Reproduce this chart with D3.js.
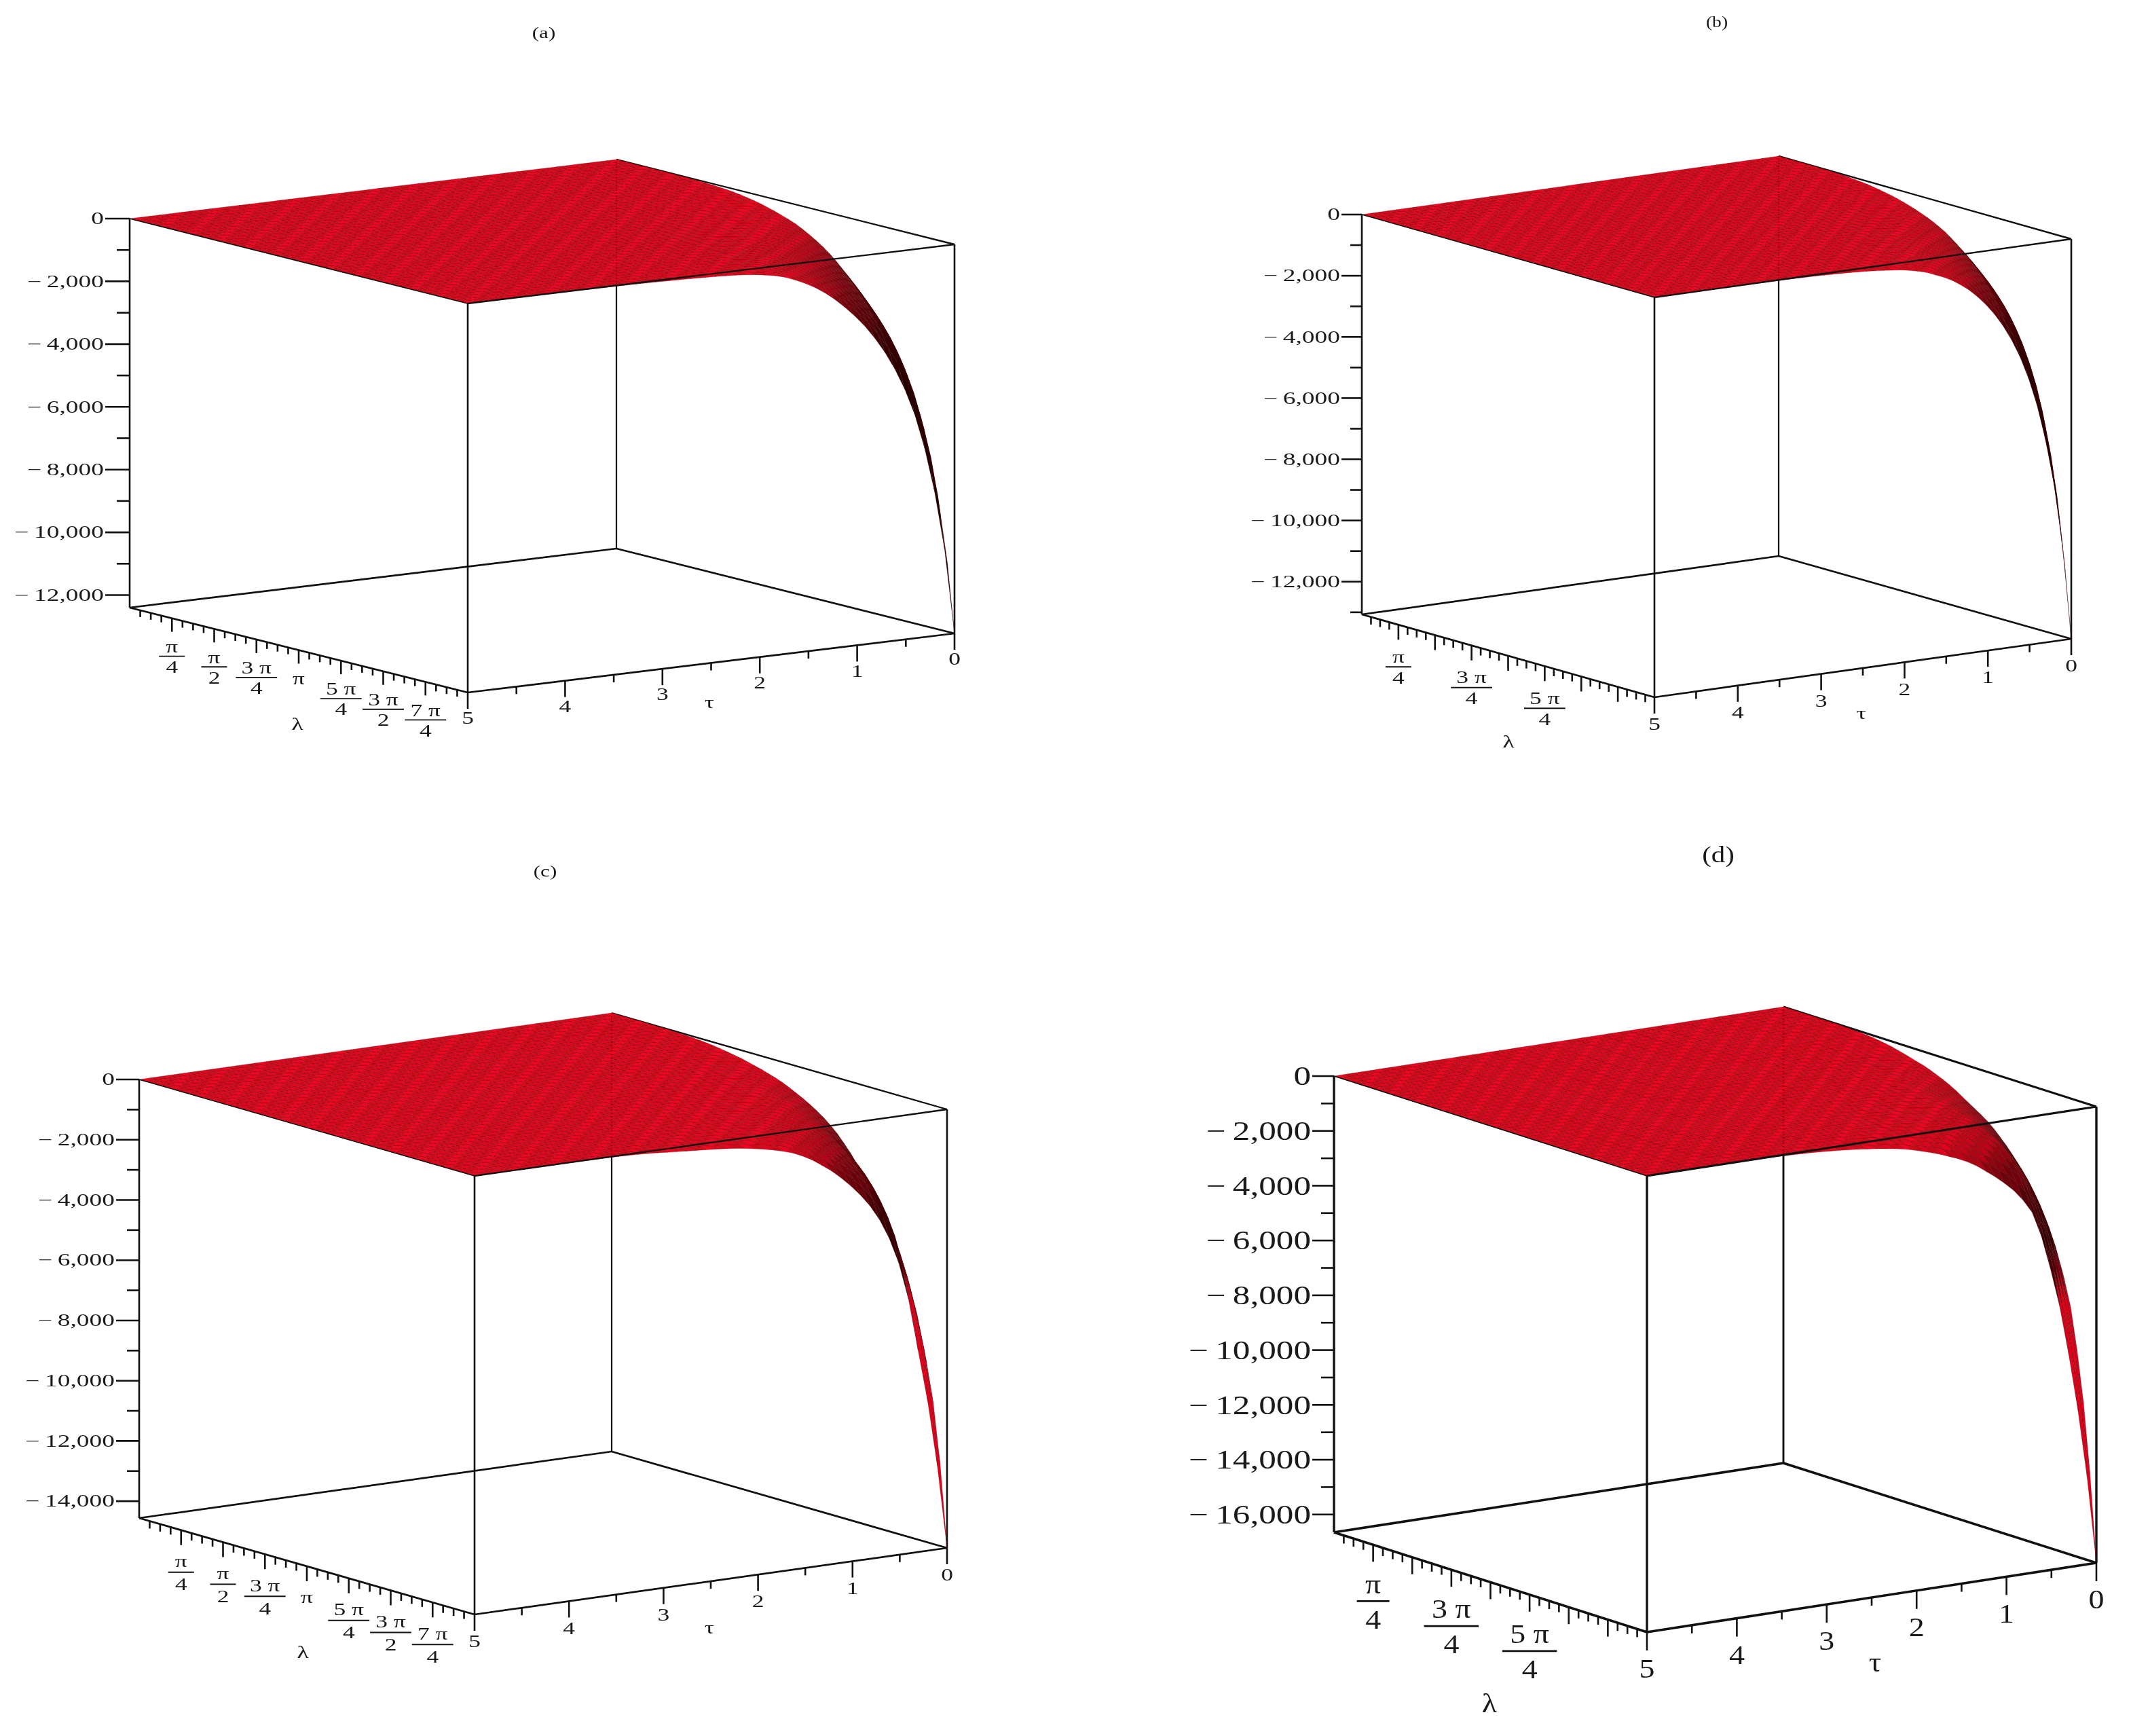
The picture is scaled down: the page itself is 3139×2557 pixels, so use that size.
<!DOCTYPE html>
<html><head><meta charset="utf-8">
<style>html,body{margin:0;background:#fff}svg{display:block;filter:blur(0.7px)}text{font-family:"Liberation Serif",serif;fill:#1a1a1a}</style>
<script src="https://cdnjs.cloudflare.com/ajax/libs/d3/7.8.5/d3.min.js"></script>
</head><body><svg id="c" width="3139" height="2557"></svg>
<script>
// surface depth profiles, fraction of the box floor
// index 0..49 runs lambda 0..2pi along tau=0, and tau 5..0 along lambda=2pi
const edgeLambdaA=[0,0,0,0,.0001,.0002,.0003,.0004,.0006,.0008,.001,.0014,.0019,.0026,.0035,.0047,.0062,.008,.0105,.0135,.017,.021,.026,.031,.037,.043,.05,.059,.069,.08,.092,.106,.122,.14,.159,.18,.203,.228,.255,.285,.318,.354,.394,.44,.49,.55,.62,.71,.83,1];
const edgeTauA=[0,0,0,0,0,.0001,.0001,.0002,.0003,.0004,.0005,.0007,.0009,.0012,.0015,.0018,.0022,.0026,.003,.0036,.0042,.0048,.0055,.0063,.0072,.0082,.0095,.011,.013,.016,.02,.025,.032,.042,.054,.068,.085,.105,.128,.154,.183,.217,.256,.302,.357,.425,.515,.63,.78,1];
const edgeLambdaB=[0,0,0,0,.0001,.0002,.0003,.0005,.0008,.0012,.0018,.0025,.0035,.0047,.0062,.008,.0105,.013,.016,.019,.023,.027,.032,.037,.043,.049,.056,.064,.073,.084,.096,.109,.123,.139,.156,.175,.196,.219,.244,.272,.303,.338,.378,.424,.478,.54,.615,.71,.835,1];
const edgeTauB=[0,0,0,0,0,.0001,.0001,.0002,.0002,.0003,.0004,.0005,.0007,.0009,.0012,.0015,.0018,.0022,.0027,.0033,.004,.0047,.0055,.0065,.0078,.0092,.011,.013,.0155,.018,.022,.027,.033,.042,.051,.062,.076,.092,.112,.135,.162,.194,.232,.278,.335,.405,.495,.61,.77,1];
const edgeLambdaC=[0,0,0,0,.0001,.0002,.0004,.0006,.0009,.0013,.0018,.0025,.0034,.0046,.0062,.0082,.0105,.013,.016,.019,.023,.027,.031,.036,.041,.047,.054,.062,.07,.079,.089,.1,.113,.128,.146,.165,.187,.211,.237,.265,.296,.33,.367,.41,.46,.52,.59,.68,.815,1];
const edgeTauC=[0,0,0,0,0,.0001,.0001,.0002,.0003,.0004,.0005,.0007,.0009,.0012,.0016,.002,.0027,.0036,.0048,.0063,.008,.0098,.0115,.013,.0148,.0165,.0185,.0208,.024,.028,.032,.037,.043,.05,.06,.072,.087,.103,.122,.143,.167,.195,.23,.275,.335,.42,.54,.66,.81,1];
const edgeLambdaD=[0,0,0,0,0,.0001,.0002,.0003,.0005,.0009,.0013,.0019,.0027,.0037,.005,.007,.0092,.012,.0155,.019,.023,.027,.031,.036,.042,.048,.055,.063,.072,.081,.09,.099,.109,.121,.135,.15,.167,.186,.207,.23,.256,.285,.318,.356,.402,.46,.55,.66,.81,1];
const edgeTauD=[0,0,0,0,0,.0001,.0001,.0002,.0003,.0004,.0005,.0007,.001,.0013,.0017,.0023,.003,.0038,.0048,.006,.0075,.009,.011,.013,.0155,.018,.021,.024,.028,.033,.039,.045,.052,.06,.068,.078,.09,.105,.12,.137,.156,.18,.21,.265,.34,.425,.535,.66,.81,1];
// vertical axis extent and tick labels
const zFloors=[-12400,-13070,-14560,-16650];
const tauTicks=[0,.5,1,1.5,2,2.5,3,3.5,4,4.5,5];
const lambdaLabelsFull=["π/4","π/2","3 π/4","π","5 π/4","3 π/2","7 π/4"];
const lambdaLabelsOdd=["π/4","","3 π/4","","5 π/4","",""];
const panelTitles=["(a)","(b)","(c)","(d)"];

// layout: where each box sits on the page
const layout=[
 {A:[191,322],AB:[498,125],AD:[717,-87],H:573,font:25,sx:1.5,fontL:25,sxL:1.42,lw:2.6,zTick:[36,19],lTick:[20,10],tTick:[24,11],frac:[42,56,72],tauOff:38,
  title:[801,48,23,1.35],tauL:[1045,1035],lamL:[438,1067],unit:38,tail:0},
 {A:[2006,316],AB:[431,122],AD:[614,-86],H:589,font:25,sx:1.5,fontL:25,sxL:1.42,lw:2.6,zTick:[30,17],lTick:[22,11],tTick:[24,11],frac:[47,62,78],tauOff:40,
  title:[2529,32,23,1.2],tauL:[2742,1051],lamL:[2222,1093],unit:38,tail:0},
 {A:[205,1590],AB:[494,142],AD:[696,-98],H:646,font:25,sx:1.5,fontL:25,sxL:1.42,lw:2.6,zTick:[34,18],lTick:[22,11],tTick:[24,11],frac:[46,62,80],tauOff:40,
  title:[803,1283,23,1.35],tauL:[1045,2398],lamL:[446,2434],unit:38,tail:1},
 {A:[1965,1585],AB:[461,147],AD:[662,-102],H:672,font:40,sx:1.28,fontL:40,sxL:1.15,lw:3.4,zTick:[32,19],lTick:[25,12],tTick:[27,12],frac:[58,83,110],tauOff:54,
  title:[2531,1259,34,1.2],tauL:[2762,2449],lamL:[2194,2509],unit:48,tail:1}
];
const profiles=[[edgeLambdaA,edgeTauA],[edgeLambdaB,edgeTauB],[edgeLambdaC,edgeTauC],[edgeLambdaD,edgeTauD]];
const labelSets=[lambdaLabelsFull,lambdaLabelsOdd,lambdaLabelsFull,lambdaLabelsOdd];

const svg=d3.select("#c");
const ink="#111";

function label(g,x,y,str,size,sx,anchor){
  g.append("text").attr("transform",`translate(${x},${y+size*0.33}) scale(${sx},1)`)
   .attr("text-anchor",anchor||"middle").attr("font-size",size).text(str);
}
function seg(g,p,q,w){
  g.append("line").attr("x1",p[0]).attr("y1",p[1]).attr("x2",q[0]).attr("y2",q[1])
   .attr("stroke",ink).attr("stroke-width",w);
}

layout.forEach((L,k)=>{
  const g=svg.append("g");
  const zFloor=zFloors[k], [fL,fT]=profiles[k];
  const lamX=d3.scaleLinear([0,2*Math.PI],[0,L.AB[0]]), lamY=d3.scaleLinear([0,2*Math.PI],[0,L.AB[1]]);
  const tauX=d3.scaleLinear([5,0],[0,L.AD[0]]), tauY=d3.scaleLinear([5,0],[0,L.AD[1]]);
  const zY=d3.scaleLinear([0,zFloor],[0,L.H]);
  const P=(lam,tau,z)=>[L.A[0]+lamX(lam)+tauX(tau),L.A[1]+lamY(lam)+tauY(tau)+zY(z)];
  const TP=2*Math.PI;
  // box: back edges
  seg(g,P(0,0,0),P(TP,0,0),L.lw*0.9);
  seg(g,P(0,0,0),P(0,0,zFloor),L.lw*0.85);
  seg(g,P(0,5,zFloor),P(0,0,zFloor),L.lw*1.05);
  seg(g,P(0,0,zFloor),P(TP,0,zFloor),L.lw*1.05);
  seg(g,P(TP,0,0),P(TP,0,zFloor),L.lw);
  seg(g,P(0,5,0),P(0,5,zFloor),L.lw);
  seg(g,P(TP,5,zFloor),P(0,5,zFloor),L.lw*1.05);
  seg(g,P(TP,5,zFloor),P(TP,0,zFloor),L.lw*1.05);

  // surface mesh: depth = floor * lambda-edge * tau-edge, painted back to front
  const n=fL.length;
  const lamAt=d3.scaleLinear([0,n-1],[0,TP]), tauAt=d3.scaleLinear([0,n-1],[5,0]);
  const Z=(i,j)=>zFloor*fL[i]*fT[j];
  const V=(i,j)=>P(lamAt(i),tauAt(j),Z(i,j));
  const cells=[];
  for(let i=0;i<n-1;i++)for(let j=n-2;j>=0;j--)cells.push([i,j]);
  const path=d3.line();
  const dark=d3.scaleLinear([.02,.05,.1,.18,.3],[0,.15,.55,.85,1]).clamp(true);
  const tailMix=d3.scaleLinear([.26,.35],[0,1]).clamp(true);
  const mix=d3.interpolateRgb;
  const weave=(i,j)=>{
    const a=(i-j+100)%2, b=(i+j)%4;
    return a?"#d80818":(b==0?"#fc0020":"#e8041c");
  };
  g.append("g").selectAll("path").data(cells).join("path")
   .attr("d",([i,j])=>path([V(i,j),V(i+1,j),V(i+1,j+1),V(i,j+1)])+"Z")
   .attr("fill",([i,j])=>{
      const f=fL[i]*fT[j];
      const c=mix(weave(i,j),"#200000")(dark(f));
      return L.tail?mix(c,"#e4001a")(tailMix(f)):c;
   })
   .attr("stroke","#4a0006").attr("stroke-width",k==3?1.1:1).attr("stroke-opacity",.3);
  // front edges
  seg(g,P(0,5,0),P(TP,5,0),1.6);
  seg(g,P(TP,5,0),P(TP,0,0),L.lw*0.9);
  seg(g,P(TP,5,0),P(TP,5,zFloor),L.lw);

  // z axis
  d3.range(0,zFloor,-1000).forEach(v=>{
    const major=v%2000===0, p=P(0,5,v);
    seg(g,[p[0]-(major?L.zTick[0]:L.zTick[1]),p[1]],p,2.6);
    if(major){
      const s=v===0?"0":"\u2212\u2009"+d3.format(",")(-v);
      label(g,p[0]-L.zTick[0]-2,p[1],s,L.font,L.sx,"end");
    }
  });

  // lambda axis: 4 intervals per pi/4
  const lams=d3.range(1,32).map(i=>i*Math.PI/16);
  lams.forEach((lam,i)=>{
    const major=(i+1)%4===0, p=P(lam,5,zFloor);
    seg(g,p,[p[0],p[1]+(major?L.lTick[0]:L.lTick[1])],2.6);
    if(major){
      const s=labelSets[k][(i+1)/4-1];
      if(!s)return;
      if(!s.includes("/")){label(g,p[0],p[1]+L.frac[0],s,L.fontL,L.sxL);return;}
      const [num,den]=s.split("/");
      label(g,p[0],p[1]+L.frac[0],num,L.fontL,L.sxL);
      const w=num.length>1?L.unit*(k==3?1.68:1.6):L.unit;
      seg(g,[p[0]-w/2,p[1]+L.frac[1]],[p[0]+w/2,p[1]+L.frac[1]],k==3?2.6:1.8);
      label(g,p[0],p[1]+L.frac[2],den,L.fontL,L.sxL);
    }
  });

  // tau axis
  tauTicks.forEach(t=>{
    const major=Number.isInteger(t), p=P(TP,t,zFloor);
    seg(g,p,[p[0],p[1]+(major?L.tTick[0]:L.tTick[1])],2.6);
    if(major)label(g,p[0],p[1]+L.tauOff,String(t),L.fontL,L.sxL);
  });

  label(g,L.tauL[0],L.tauL[1],"τ",L.fontL,L.sxL);
  label(g,L.lamL[0],L.lamL[1],"λ",L.fontL,L.sxL);
  label(g,L.title[0],L.title[1],panelTitles[k],L.title[2],L.title[3]);
});
</script></body></html>
